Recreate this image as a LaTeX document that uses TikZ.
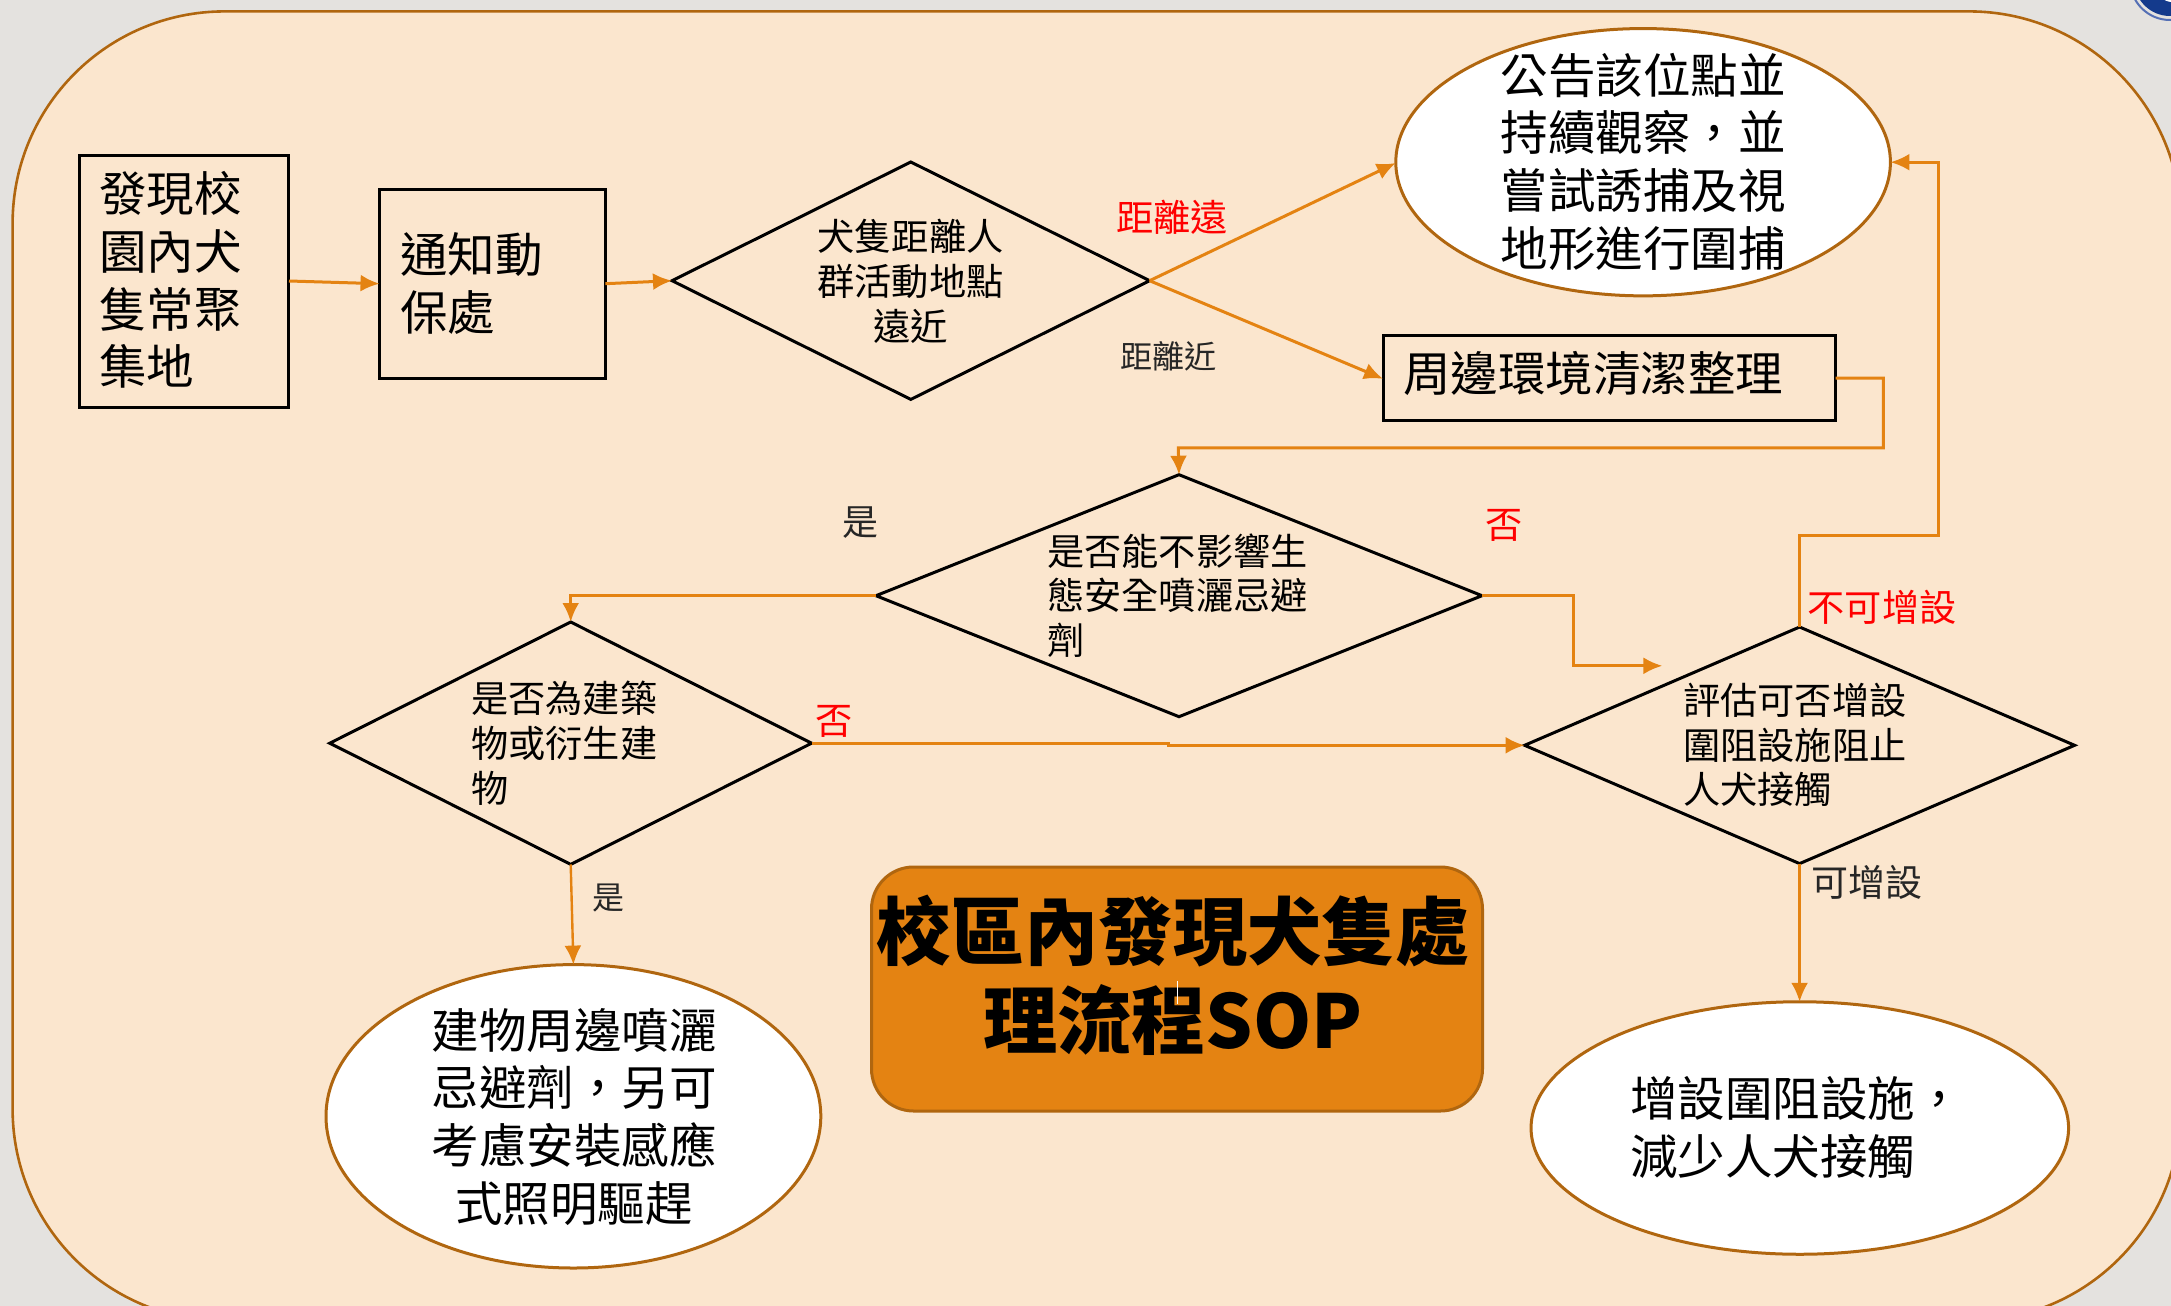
\documentclass[tikz,border=0pt]{standalone}
\usepackage{fontspec}
\setmainfont{Noto Sans CJK TC}
\usetikzlibrary{shapes.geometric,arrows.meta,positioning}
\definecolor{pagegray}{HTML}{E4E2DF}
\definecolor{panel}{HTML}{FBE6CE}
\definecolor{edgebrown}{HTML}{B0660F}
\definecolor{flow}{HTML}{E48312}
\definecolor{softblack}{HTML}{262626}
\definecolor{navy}{HTML}{143A8C}
\definecolor{paleblue}{HTML}{5570B5}
\tikzset{
  x=1pt,y=-1pt,
  flowbox/.style={draw=black,line width=3pt,fill=panel,rectangle,inner sep=0pt,outer sep=0pt},
  decision/.style={draw=black,line width=3pt,fill=panel,diamond,inner sep=0pt,outer sep=0pt},
  endcap/.style={draw=edgebrown,line width=3pt,fill=white,ellipse,inner sep=0pt,outer sep=0pt},
  flowline/.style={draw=flow,line width=3pt,-{Latex[length=19pt,width=17pt]}},
  thinflow/.style={flowline,line width=2.4pt},
  bigtxt/.style={inner sep=0pt,align=left,font=\fontsize{47.5}{57.6}\selectfont},
  bigctr/.style={bigtxt,align=center},
  midtxt/.style={inner sep=0pt,align=left,font=\fontsize{37.2}{44.8}\selectfont},
  midctr/.style={midtxt,align=center},
  redtag/.style={inner sep=0pt,text=red,font=\fontsize{37.2}{44.8}\selectfont},
  greytag/.style={inner sep=0pt,text=softblack,font=\fontsize{32}{40}\selectfont},
}
\begin{document}
\begin{tikzpicture}
\useasboundingbox (0,0) rectangle (2171,1306);
\clip (0,0) rectangle (2171,1306);
\fill[pagegray] (0,0) rectangle (2171,1306);
\draw[paleblue,line width=2pt,fill=pagegray] (2170,-20) circle (40);
\fill[navy] (2170,-20) circle (36);
\fill[white] (2172,-13) circle (15);
\draw[edgebrown,line width=2.6pt,fill=panel,rounded corners=212pt] (12.6,11.4) rectangle (2181,1321);

% shapes
\node[flowbox,minimum width=209.4pt,minimum height=252pt] (b1) at (183.8,281.5) {};
\node[flowbox,minimum width=225.9pt,minimum height=189pt] (b2) at (492.5,284.1) {};
\node[decision,minimum width=477.6pt,minimum height=237.4pt,aspect=2.01] (d1) at (910.8,280.7) {};
\node[endcap,minimum width=494.6pt,minimum height=267.3pt] (e1) at (1643.1,162.2) {};
\node[flowbox,minimum width=452.6pt,minimum height=85.5pt] (b3) at (1609.3,378.2) {};
\node[decision,minimum width=606pt,minimum height=242pt,aspect=2.5] (d2) at (1179,595.7) {};
\node[decision,minimum width=481.9pt,minimum height=242.4pt,aspect=1.99] (d3) at (570.7,743.2) {};
\node[decision,minimum width=550pt,minimum height=236.6pt,aspect=2.32] (d4) at (1799.6,745.3) {};
\node[endcap,minimum width=494.8pt,minimum height=303.4pt] (e3) at (573.4,1116.3) {};
\node[endcap,minimum width=537.5pt,minimum height=252.5pt] (e4) at (1799.8,1128) {};
\node[draw=edgebrown,line width=3pt,fill=flow,rectangle,rounded corners=42pt,minimum width=611pt,minimum height=244pt,inner sep=0pt,outer sep=0pt] (title) at (1177,989) {};

% connectors
\coordinate (d2in) at (1662.4,665.8);
\coordinate (d2turn) at (1573.3,596);
\draw[flowline] (289,281) -- (b2.west |- 0,283.7);
\draw[flowline] (605.4,283.7) -- (d1.west);
\draw[flowline] (d1.east) -- (1395.8,163);
\draw[flowline] (d1.east) -- (1383,378.8);
\draw[flowline] (b3.east) -- (1883.4,378.2) -- (1883.4,447.8) -- (1178.3,447.8) -- (d2.north);
\draw[flowline] (d2.west) -- (570.7,595.7) -- (d3.north);
\draw[flowline] (d2.east) -- (d2turn |- d2.east) -- (d2turn |- d2in) -- (d2in);
\draw[flowline] (d3.east) -- (1168,743.2) -- (1168,745.3) -- (d4.west);
\draw[thinflow] (d3.south) -- (e3.north);
\draw[flowline] (d4.north) -- (1799.6,535.8) -- (1938.8,535.8) -- (1938.8,162.2) -- (e1.east);
\draw[thinflow] (d4.south) -- (e4.north -| d4.south);

% box and shape texts
\node[bigtxt,anchor=west] (t1) at (99,280) {發現校\\園內犬\\隻常聚\\集地};
\node[bigtxt,anchor=west] (t2) at (400,283.6) {通知動\\保處};
\node[midctr] (t3) at (910.5,281.2) {犬隻距離人\\群活動地點\\遠近};
\node[bigctr] (t4) at (1643,161.6) {公告該位點並\\持續觀察，並\\嘗試誘捕及視\\地形進行圍捕};
\node[bigtxt,anchor=west] (t5) at (1403,373.7) {周邊環境清潔整理};
\node[midtxt,anchor=west] (t6) at (1047,595.5) {是否能不影響生\\態安全噴灑忌避\\劑};
\node[midtxt,anchor=west] (t7) at (471,743.4) {是否為建築\\物或衍生建\\物};
\node[midtxt,anchor=west] (t8) at (1683,745) {評估可否增設\\圍阻設施阻止\\人犬接觸};
\node[bigctr] (t9) at (574,1116.8) {建物周邊噴灑\\忌避劑，另可\\考慮安裝感應\\式照明驅趕};
\node[bigtxt,anchor=west] (t10) at (1630,1127.4) {增設圍阻設施，\\減少人犬接觸};
\node[inner sep=0pt,align=center,font=\fontsize{74.2}{88.6}\selectfont\bfseries] (t11) at (1173,975.5) {校區內發現犬隻處\\理流程SOP};

% edge labels
\node[redtag] (far) at (1172,217.6) {距離遠};
\node[greytag] (near) at (1168.7,356.5) {距離近};
\node[inner sep=0pt,text=softblack,font=\fontsize{36}{44}\selectfont] (yes1) at (860,523) {是};
\node[redtag] (no1) at (1504,525) {否};
\node[redtag] (cannot) at (1882,607.3) {不可增設};
\node[redtag] (no2) at (834,721.8) {否};
\node[greytag] (yes2) at (608,898.5) {是};
\node[inner sep=0pt,text=softblack,font=\fontsize{37}{44}\selectfont] (can) at (1867,882) {可增設};

% text cursor in the title
\draw[white,line width=1.4pt] (1177.6,981) -- (1177.6,1004);
\end{tikzpicture}
\end{document}
